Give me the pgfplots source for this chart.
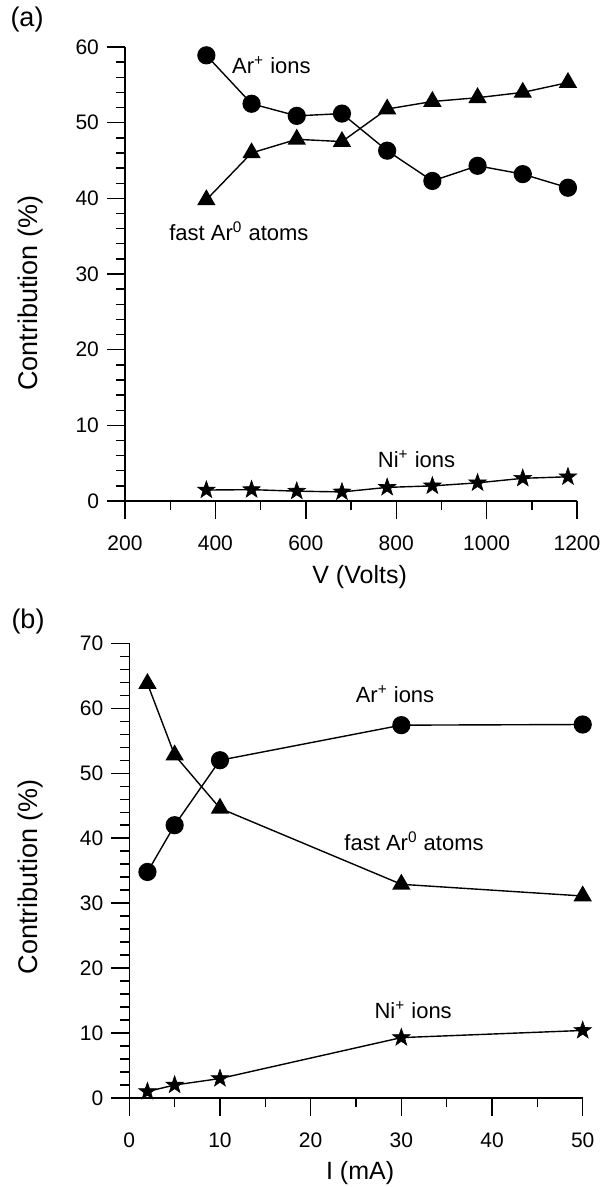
\documentclass[border=0pt]{standalone}
\usepackage{fontspec}
\setmainfont{Liberation Sans}
\usepackage{pgfplots}
\pgfplotsset{compat=1.18}
\pgfdeclareplotmark{fstar}{%
  \pgfpathmoveto{\pgfpointpolar{90}{\pgfplotmarksize}}%
  \pgfpathlineto{\pgfpointpolar{126}{0.40\pgfplotmarksize}}%
  \pgfpathlineto{\pgfpointpolar{162}{\pgfplotmarksize}}%
  \pgfpathlineto{\pgfpointpolar{198}{0.40\pgfplotmarksize}}%
  \pgfpathlineto{\pgfpointpolar{234}{\pgfplotmarksize}}%
  \pgfpathlineto{\pgfpointpolar{270}{0.40\pgfplotmarksize}}%
  \pgfpathlineto{\pgfpointpolar{306}{\pgfplotmarksize}}%
  \pgfpathlineto{\pgfpointpolar{342}{0.40\pgfplotmarksize}}%
  \pgfpathlineto{\pgfpointpolar{18}{\pgfplotmarksize}}%
  \pgfpathlineto{\pgfpointpolar{54}{0.40\pgfplotmarksize}}%
  \pgfpathclose
  \pgfusepathqfillstroke}
\pgfplotsset{
  mystyle/.style={
    scale only axis,
    axis lines=left,
    axis line style={-, line width=0.7pt},
    xtick align=outside,
    ytick align=outside,
    major tick length=9pt,
    minor tick length=4.5pt,
    every tick/.style={black, line width=0.7pt},
    tick label style={font=\fontsize{10.5}{12}\selectfont},
    xticklabel style={yshift=-5pt},
    yticklabel style={xshift=-0.5pt},
    /pgf/number format/assume math mode=true,
    /pgf/number format/1000 sep={},
    clip=false,
    label style={font=\fontsize{12.5}{15}\selectfont},
    ylabel style={font=\fontsize{13.5}{16}\selectfont, anchor=center},
    xlabel style={anchor=center},
  },
  circ/.style={black, line width=0.7pt, mark=*, mark size=4.2pt, mark options={solid, fill=black}},
  tri/.style={black, line width=0.7pt, mark=triangle*, mark size=4.6pt, mark options={solid, fill=black}},
  sta/.style={black, line width=0.7pt, mark=fstar, mark size=4.6pt, mark options={solid, fill=black, line width=0.3pt}},
}
\begin{document}
\begin{tikzpicture}[x=1pt,y=1pt]
\path[use as bounding box] (0,0) rectangle (302,-593.5);
\node[font=\fontsize{13.5}{16}\selectfont] at (13.5,-10) {(a)};
\node[font=\fontsize{13.5}{16}\selectfont] at (14,-311) {(b)};
\begin{axis}[mystyle,
  at={(62.5pt,-250.5pt)}, anchor=south west,
  width=226pt, height=227pt,
  xmin=200, xmax=1200, ymin=0, ymax=60,
  xtick={200,400,600,800,1000,1200}, minor xtick={300,500,700,900,1100},
  ytick={0,10,20,30,40,50,60}, minor y tick num=4,
  xlabel={V (Volts)}, ylabel={Contribution (\%)},
  xlabel style={at={(axis description cs:0.519,0)}, yshift=-37.8pt},
  ylabel style={at={(axis description cs:-0.208,0.4575)}},
]
\addplot[circ] coordinates {(380,58.9)(480,52.5)(580,50.9)(680,51.2)(780,46.3)(880,42.3)(980,44.3)(1080,43.2)(1180,41.4)};
\addplot[tri] coordinates {(380,39.8)(480,46.0)(580,47.8)(680,47.5)(780,51.8)(880,52.8)(980,53.3)(1080,54.0)(1180,55.3)};
\addplot[sta] coordinates {(380,1.45)(480,1.5)(580,1.3)(680,1.2)(780,1.8)(880,2.0)(980,2.4)(1080,3.0)(1180,3.2)};
\node[font=\fontsize{11}{13}\selectfont] at (axis cs:524,57.6) {Ar\textsuperscript{+} ions};
\node[font=\fontsize{11}{13}\selectfont] at (axis cs:452,35.6) {fast Ar\textsuperscript{0} atoms};
\node[font=\fontsize{11}{13}\selectfont] at (axis cs:845,5.5) {Ni\textsuperscript{+} ions};
\end{axis}
\begin{axis}[mystyle,
  at={(64.65pt,-549pt)}, anchor=south west,
  width=226.7pt, height=227.35pt,
  xmin=0, xmax=50, ymin=0, ymax=70,
  xtick={0,10,20,30,40,50}, minor xtick={5,15,25,35,45},
  ytick={0,10,20,30,40,50,60,70}, minor y tick num=4,
  xlabel={I (mA)}, ylabel={Contribution (\%)},
  xlabel style={at={(axis description cs:0.509,0)}, yshift=-37.5pt},
  ylabel style={at={(axis description cs:-0.217,0.4867)}},
]
\addplot[circ] coordinates {(2,34.8)(5,42.0)(10,52.0)(30,57.4)(50,57.5)};
\addplot[tri] coordinates {(2,63.8)(5,52.8)(10,44.6)(30,32.9)(50,31.1)};
\addplot[sta] coordinates {(2,1.0)(5,2.0)(10,3.0)(30,9.3)(50,10.4)};
\node[font=\fontsize{11}{13}\selectfont] at (axis cs:29.3,62.1) {Ar\textsuperscript{+} ions};
\node[font=\fontsize{11}{13}\selectfont] at (axis cs:31.4,39.6) {fast Ar\textsuperscript{0} atoms};
\node[font=\fontsize{11}{13}\selectfont] at (axis cs:31.3,13.5) {Ni\textsuperscript{+} ions};
\end{axis}
\end{tikzpicture}
\end{document}
